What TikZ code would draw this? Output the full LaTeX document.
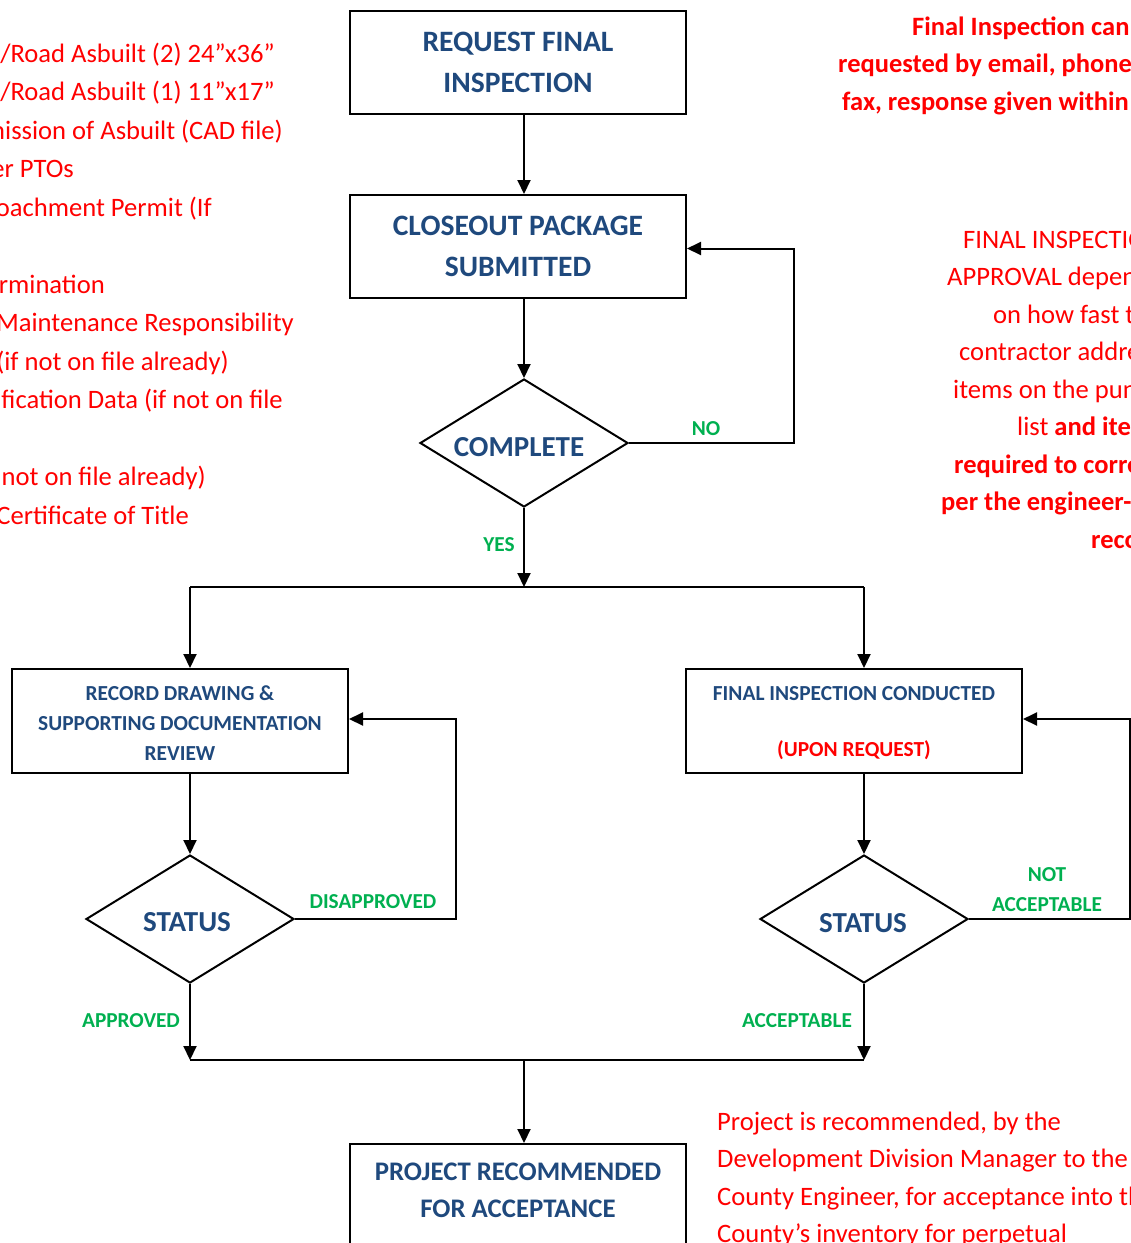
\documentclass[tikz,border=0pt]{standalone}
\usepackage{fontspec}
\setmainfont{Carlito}
\usetikzlibrary{arrows.meta,shapes.geometric}
\definecolor{navy}{HTML}{1F497D}
\definecolor{grn}{HTML}{00B050}
\definecolor{rd}{HTML}{FF0000}
\newcommand{\lowr}[2]{\raisebox{-#1}[\height][\depth]{#2}}
\begin{document}
\begin{tikzpicture}[x=1pt,y=-1pt,
  bigbox/.style={draw, line width=2pt, minimum width=336pt, minimum height=103pt, inner sep=0pt,
    font=\fontsize{29.6}{41}\selectfont\bfseries, text=navy, align=center},
  smallbox/.style={draw, line width=2pt, minimum width=336pt, minimum height=104pt, inner sep=0pt,
    font=\fontsize{21.4}{30}\selectfont\bfseries, text=navy, align=center},
  dia/.style={draw, line width=2pt, diamond, aspect=1.6, minimum width=208pt, minimum height=128pt,
    inner sep=0pt, font=\fontsize{29}{34}\selectfont\bfseries, text=navy},
  arr/.style={line width=2pt, -{Triangle[length=14pt,width=13pt]}},
  ln/.style={line width=2pt},
  lbl/.style={font=\fontsize{21.3}{30}\selectfont\bfseries, text=grn, inner sep=0pt, align=center},
  note/.style={font=\fontsize{26.6}{38.5}\selectfont, text=rd, inner sep=0pt},
  bnote/.style={font=\fontsize{26.5}{38.5}\selectfont\bfseries, text=rd, inner sep=0pt}
]
\useasboundingbox (0,0) rectangle (1131,1243);
\clip (0,0) rectangle (1131,1243);

% boxes
\node[bigbox] (b1) at (518,62.5) {REQUEST FINAL\\INSPECTION};
\node[bigbox] (b2) at (518,246.5) {CLOSEOUT PACKAGE\\SUBMITTED};
\node[dia] (c1) at (524,443) {\hspace*{-10pt}\lowr{4pt}{COMPLETE}};
\node[smallbox] (b3) at (180,721) {\lowr{3pt}{\begin{tabular}{@{}c@{}}RECORD DRAWING \&\\SUPPORTING DOCUMENTATION\\REVIEW\end{tabular}}};
\node[smallbox] (b4) at (854,721) {\lowr{1pt}{\begin{tabular}{@{}c@{}}FINAL INSPECTION CONDUCTED\\[26pt]\textcolor{rd}{(UPON REQUEST)}\end{tabular}}};
\node[dia] (s1) at (190,919) {\hspace*{-6pt}\lowr{3pt}{STATUS}};
\node[dia] (s2) at (864,919) {\hspace*{-2pt}\lowr{4pt}{STATUS}};
\node[draw, line width=2pt, minimum width=336pt, minimum height=160pt, inner sep=0pt, anchor=north] (b5) at (518,1143) {};
\node[font=\fontsize{26.8}{37}\selectfont\bfseries, text=navy, align=center, inner sep=0pt] (b5t) at (518,1190) {PROJECT RECOMMENDED\\FOR ACCEPTANCE};

% coordinates
\coordinate (nocorner) at (794,443);
\coordinate (split) at (524,587);
\coordinate (lsplit) at (190,587);
\coordinate (rsplit) at (864,587);
\coordinate (dcorner) at (456,919);
\coordinate (ncorner) at (1130,919);
\coordinate (jl) at (190,1060);
\coordinate (jr) at (864,1060);
\coordinate (jm) at (524,1060);

% connectors
\draw[arr] (b1.south -| c1) -- (b2.north -| c1);
\draw[arr] (b2.south -| c1) -- (c1.north);
\draw[arr] (c1.east) -- (nocorner) |- ([yshift=-2pt]b2.east);
\draw[arr] (c1.south) -- (split);
\draw[ln] (lsplit) -- (rsplit);
\draw[arr] (lsplit) -- (b3.north -| lsplit);
\draw[arr] (rsplit) -- (b4.north -| rsplit);
\draw[arr] (b3.south -| s1) -- (s1.north);
\draw[arr] (b4.south -| s2) -- (s2.north);
\draw[arr] (s1.east) -- (dcorner) |- ([yshift=2pt]b3.east);
\draw[arr] (s2.east) -- (ncorner) |- ([yshift=2pt]b4.east);
\draw[arr] (s1.south) -- (jl);
\draw[arr] (s2.south) -- (jr);
\draw[ln] (jl) -- (jr);
\draw[arr] (jm) -- (b5.north -| jm);

% labels
\node[lbl] (lno) at (706,429) {NO};
\node[lbl] (lyes) at (499,545) {YES};
\node[lbl] (ldis) at (373,902) {DISAPPROVED};
\node[lbl] (lnot) at (1047,890) {NOT\\ACCEPTABLE};
\node[lbl] (lapp) at (131,1021) {APPROVED};
\node[lbl] (lacc) at (797,1021) {ACCEPTABLE};

% left notes
\node[note, anchor=base east] (n1) at (275,62) {/Road Asbuilt (2) 24”x36”};
\node[note, anchor=base east] (n2) at (275,100.5) {/Road Asbuilt (1) 11”x17”};
\node[note, anchor=base east] (n3) at (283,139) {mission of Asbuilt (CAD file)};
\node[note, anchor=base east] (n4) at (74,177.5) {er PTOs};
\node[note, anchor=base east] (n5) at (212,216) {roachment Permit (If};
\node[note, anchor=base east] (n6) at (105,293) {rmination};
\node[note, anchor=base east] (n7) at (294,331.5) {Maintenance Responsibility};
\node[note, anchor=base east] (n8) at (229,370) {(if not on file already)};
\node[note, anchor=base east] (n9) at (283,408.5) {ification Data (if not on file};
\node[note, anchor=base east] (n10) at (206,485.5) {not on file already)};
\node[note, anchor=base east] (n11) at (189,524) {Certificate of Title};

% right top notes
\node[bnote, anchor=base west] (r1) at (912,35) {Final Inspection can};
\node[bnote, anchor=base west] (r2) at (838,72.5) {requested by email, phone};
\node[bnote, anchor=base west] (r3) at (842,110) {fax, response given within};

% right middle notes
\node[note, anchor=base west] (m1) at (963,248) {FINAL INSPECTION};
\node[note, anchor=base west] (m2) at (947,285.5) {APPROVAL depends};
\node[note, anchor=base west] (m3) at (993,323) {on how fast the};
\node[note, anchor=base west] (m4) at (959,360.5) {contractor addresses};
\node[note, anchor=base west] (m5) at (953,398) {items on the punch};
\node[note, anchor=base west] (m6) at (1017,435.5) {list \textbf{and items}};
\node[bnote, anchor=base west] (m7) at (954,473) {required to correct};
\node[bnote, anchor=base west] (m8) at (941,510.5) {per the engineer-of-};
\node[bnote, anchor=base west] (m9) at (1091,548) {record};

% bottom right notes
\node[note, anchor=base west] (q1) at (717,1130) {Project is recommended, by the};
\node[note, anchor=base west] (q2) at (717,1167.5) {Development Division Manager to the};
\node[note, anchor=base west] (q3) at (717,1205) {County Engineer, for acceptance into the};
\node[note, anchor=base west] (q4) at (717,1242.5) {County’s inventory for perpetual};
\end{tikzpicture}
\end{document}
